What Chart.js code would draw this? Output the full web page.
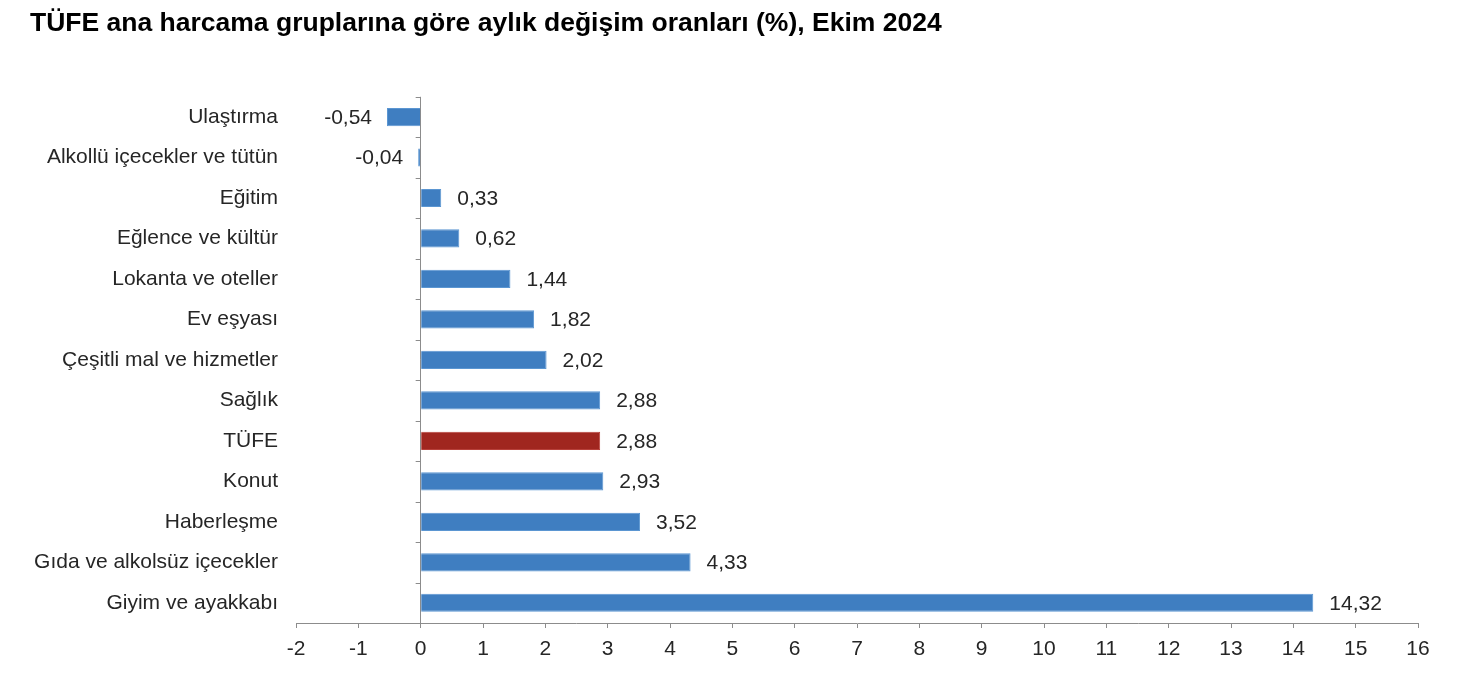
<!DOCTYPE html>
<html>
<head>
  <meta charset="utf-8">
  <title>TÜFE aylık değişim</title>
  <script src="https://cdn.jsdelivr.net/npm/chart.js"></script>
  <style>
    body { margin: 0; background: #fff; }
  </style>
</head>
<body>
  <canvas id="chart" width="1476" height="678"></canvas>
  <script>
    // Veriler
    const groups = ['Ulaştırma', 'Alkollü içecekler ve tütün', 'Eğitim', 'Eğlence ve kültür',
      'Lokanta ve oteller', 'Ev eşyası', 'Çeşitli mal ve hizmetler', 'Sağlık', 'TÜFE',
      'Konut', 'Haberleşme', 'Gıda ve alkolsüz içecekler', 'Giyim ve ayakkabı'];
    const changes = [-0.54, -0.04, 0.33, 0.62, 1.44, 1.82, 2.02, 2.88, 2.88, 2.93, 3.52, 4.33, 14.32];
    const xMin = -2;
    const xMax = 16;

    const FONT = 'Liberation Sans, Arial, sans-serif';
    const TEXT = '#262626';
    const AXIS = '#8c8c8c';

    // Etiketler çubukların ucuna
    const valueLabels = {
      id: 'valueLabels',
      afterDatasetsDraw(chart) {
        const c = chart.ctx;
        const meta = chart.getDatasetMeta(0);
        c.save();
        c.font = '21px ' + FONT;
        c.fillStyle = TEXT;
        c.textBaseline = 'middle';
        meta.data.forEach((bar, i) => {
          const v = changes[i];
          const txt = v.toFixed(2).replace('.', ',');
          if (v < 0) {
            c.textAlign = 'right';
            c.fillText(txt, bar.x - 15, bar.y + 1);
          } else {
            c.textAlign = 'left';
            c.fillText(txt, bar.x + 16, bar.y + 1);
          }
        });
        c.restore();
      }
    };

    // Sıfır çizgisindeki kategori çentikleri
    const zeroTicks = {
      id: 'zeroTicks',
      afterDraw(chart) {
        const c = chart.ctx;
        const x0 = chart.scales.x.getPixelForValue(0);
        const ys = chart.scales.y;
        c.save();
        c.strokeStyle = AXIS;
        c.lineWidth = 1;
        c.beginPath();
        for (let i = 0; i <= groups.length; i++) {
          const y = Math.round(ys.getPixelForValue(i - 0.5)) + 0.5;
          c.moveTo(x0 - 5, y);
          c.lineTo(x0, y);
        }
        c.stroke();
        c.restore();
      }
    };

    const ctx = document.getElementById('chart').getContext('2d');
    new Chart(ctx, {
      type: 'bar',
      data: {
        labels: groups,
        datasets: [{
          data: changes,
          backgroundColor: groups.map(g => g === 'TÜFE' ? '#a0261f' : '#3f7ec1'),
          borderColor: groups.map(g => g === 'TÜFE' ? '#b8403a' : '#5b96d2'),
          borderWidth: 1,
          barPercentage: 0.45,
          categoryPercentage: 1
        }]
      },
      options: {
        indexAxis: 'y',
        responsive: false,
        animation: false,
        layout: { padding: { left: 30, right: 58, top: 8, bottom: 0 } },
        plugins: {
          legend: { display: false },
          tooltip: { enabled: false },
          title: {
            display: true,
            text: 'TÜFE ana harcama gruplarına göre aylık değişim oranları (%), Ekim 2024',
            align: 'start',
            color: '#000',
            font: { family: FONT, size: 26.5, weight: 'bold' },
            padding: { top: 0, bottom: 57 }
          }
        },
        scales: {
          x: {
            min: xMin,
            max: xMax,
            ticks: { stepSize: 1, color: TEXT, font: { family: FONT, size: 21 }, padding: 9 },
            grid: {
              color: c => c.tick && c.tick.value === 0 ? AXIS : 'transparent',
              tickColor: AXIS,
              tickLength: 5
            },
            border: { color: AXIS },
            afterFit: s => { s.height = 55; }
          },
          y: {
            ticks: { color: TEXT, font: { family: FONT, size: 21 }, padding: 10 },
            grid: { display: false },
            border: { display: false },
            afterFit: s => { s.width = 266; }
          }
        }
      },
      plugins: [valueLabels, zeroTicks]
    });
  </script>
</body>
</html>
